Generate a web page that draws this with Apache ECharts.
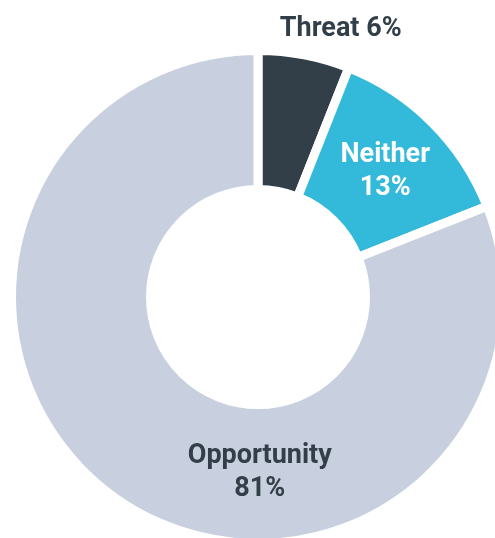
<!DOCTYPE html>
<html>
<head>
<meta charset="utf-8">
<script src="https://cdn.jsdelivr.net/npm/echarts@6/dist/echarts.min.js"></script>
<style>
  html, body { margin: 0; padding: 0; background: #ffffff; }
  #chart { width: 495px; height: 538px; }
</style>
</head>
<body>
<div id="chart"></div>
<script>
// Share of respondents by view
const categories = ['Threat', 'Neither', 'Opportunity'];
const shares = [6, 13, 81];
const sliceColors = ['#323f48', '#33b9d9', '#c8cfde'];

// Per-slice label styling: Threat sits above the ring, the others inside
const labelStyles = [
  { color: '#333f48', position: 'inside', offset: [49, -91], formatter: p => p.name + ' ' + p.value + '%' },
  { color: '#ffffff', position: 'inside', offset: [0, 2], formatter: p => p.name + '\n' + p.value + '%' },
  { color: '#333f48', position: 'inside', offset: [103, 27], formatter: p => p.name + '\n' + p.value + '%' }
];

const chart = echarts.init(document.getElementById('chart'), null, { renderer: 'canvas' });

chart.setOption({
  animation: false,
  backgroundColor: '#ffffff',
  series: [{
    type: 'pie',
    center: [258, 297],
    radius: [107.5, 246.5],
    startAngle: 90,
    clockwise: true,
    avoidLabelOverlap: false,
    silent: true,
    itemStyle: { borderColor: '#ffffff', borderWidth: 9 },
    label: {
      fontFamily: 'Roboto',
      fontWeight: 'bold',
      fontSize: 27,
      lineHeight: 33,
      align: 'center'
    },
    labelLine: { show: false },
    data: categories.map((name, i) => ({
      name: name,
      value: shares[i],
      itemStyle: { color: sliceColors[i] },
      label: labelStyles[i]
    }))
  }]
});
</script>
</body>
</html>
